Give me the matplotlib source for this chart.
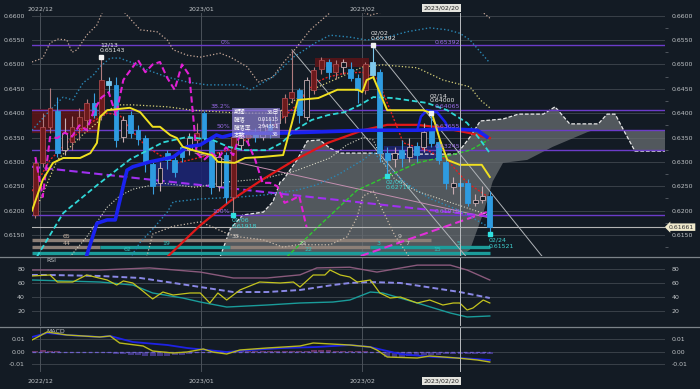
import numpy as np
import pandas as pd
import matplotlib
matplotlib.use('Agg')
import matplotlib.pyplot as plt
from matplotlib.patches import Rectangle, Polygon
from matplotlib.lines import Line2D

# ---------------- data ----------------
dates = pd.bdate_range('2022-11-30', '2023-02-24')
idx = np.arange(len(dates)) - 1          # 2022/12/01 -> 0

opens = [.6192,.6298,.6372,.6405,.6325,.6340,.6370,.6385,.6421,.6396,.6466,.6458,.6352,.6396,.6365,.6349,
         .6296,.6257,.6318,.6304,.6331,.6325,.6345,.6400,.6345,.6250,.6314,.6228,.6335,.6349,.6360,.6352,
         .6375,.6380,.6395,.6431,.6448,.6392,.6448,.6490,.6505,.6485,.6495,.6490,.6472,.6448,.6505,.6484,
         .6318,.6305,.6324,.6310,.6333,.6330,.6365,.6341,.6300,.6248,.6257,.6257,.6216,.6222,.6230]
highs = [.6305,.6400,.6452,.6433,.6390,.6395,.6410,.6430,.6441,.65143,.6475,.6475,.6395,.6405,.6375,.6355,
         .6300,.6300,.6325,.6310,.6335,.6360,.6380,.6405,.6350,.6320,.6320,.6360,.6360,.6375,.6370,.6390,
         .6385,.6410,.6440,.6530,.6452,.6475,.6495,.6515,.6512,.6510,.6512,.6505,.6480,.6505,.65392,.6490,
         .6330,.6330,.6345,.6350,.6340,.6380,.6400,.6345,.6305,.6270,.6265,.6265,.6235,.6250,.6240]
lows = [.6185,.6290,.6360,.6310,.6315,.6325,.6345,.6370,.6390,.6385,.6440,.6330,.6340,.6350,.6335,.6280,
        .6235,.6240,.6285,.6270,.6300,.6315,.6330,.6340,.6235,.6240,.6215,.61918,.6325,.6335,.6340,.6345,
        .6350,.6370,.6380,.6420,.6380,.6385,.6440,.6480,.6470,.6470,.6480,.6465,.6420,.6440,.6470,.6300,
        .62716,.6290,.6290,.6300,.6300,.6320,.6330,.6295,.6245,.6235,.6240,.6210,.6210,.6215,.61521]
closes = [.6298,.6372,.6411,.6318,.6360,.6372,.6392,.6420,.6396,.6468,.6458,.6345,.6385,.6360,.6347,.6298,
          .6250,.6287,.6304,.6280,.6310,.6350,.6360,.6349,.6248,.6310,.6228,.6351,.6349,.6360,.6352,.6375,
          .6365,.6406,.6432,.6443,.6396,.6468,.6489,.6509,.6484,.6500,.6505,.6472,.6448,.6500,.6478,.6318,
          .6304,.6318,.6308,.6330,.6314,.6361,.6339,.6304,.6257,.6257,.6250,.6216,.6222,.6230,.61661]
styles = ['r','r','r','b','h','r','r','r','b','r','l','b','h','b','b','b',
          'b','h','b','b','b','h','r','b','b','h','b','r','h','r','b','h',
          'b','h','r','r','b','h','r','r','b','r','h','b','b','r','l','b',
          'b','h','b','h','b','h','b','b','b','h','b','b','h','h','b']

# indicator lines (position, value)
tenkan_x = [-1.46,0.0,1.4,2.8,5.1,6.5,7.4,7.8,8.8,11.9,13.3,15.0,16.0,17.4,18.3,19.1,20.5,21.9,23.1,23.9,
            26.2,27.6,29.9,32.8,34.0,34.8,37.6,40.2,43.0,43.6,44.2,45.1,47.0,51.9,53.1,54.2,55.2,56.9,59.9,61.0]
tenkan_y = [.6200,.6263,.6298,.6308,.6308,.6318,.6339,.6392,.6406,.6411,.6402,.6372,.6372,.6355,.6349,.6331,
            .6324,.6318,.6314,.6300,.6298,.6308,.6310,.6314,.6380,.6427,.6431,.6448,.6448,.6443,.6468,.6474,
            .6406,.6406,.6400,.6345,.6304,.6294,.6294,.6269]
kijun_x = [-0.8,2.8,7.4,11.9,16.4,19.7,23.2,25.3,27.6,30.7,32.6,34.4,36.7,38.9,41.2,43.3,45.1,47.8,52.4,55.2,57.9,59.7,61.0]
kijun_y = [.6105,.6195,.6252,.6305,.6340,.6351,.6345,.6331,.6324,.6324,.6339,.6365,.6386,.6396,.6402,.6417,
           .6433,.6431,.6421,.6406,.6380,.6345,.6318]
ma_blue_x = [6.0,7.4,8.8,9.9,11.5,12.3,14.6,17.8,19.7,21.5,23.7,24.5,26.6,32.1,36.7,44.4,51.1,55.2,59.3,60.6]
ma_blue_y = [.6108,.6174,.6181,.6181,.6283,.6290,.6300,.6310,.6331,.6335,.6355,.6351,.6359,.6359,.6361,.6365,
             .6365,.6368,.6365,.6351]
arc_x = [51.1,51.6,52.4,53.8,54.9,55.4]
arc_y = [.6365,.6393,.6406,.6402,.6382,.6368]
ma_red_x = [17.0,21.5,25.6,29.9,34.4,38.9,43.7,47.0,51.1,54.6,58.3,61.0]
ma_red_y = [.6105,.6170,.6220,.6263,.6304,.6339,.6365,.6376,.6376,.6370,.6359,.6349]
ma_reddot_x = [-1.46,1.0,3.7,6.5,8.8,10.5,12.9,14.2,16.4,18.3,20.1,25.3,27.6,31.4,34.4,37.1,38.9,41.2,43.6,
               45.6,47.8,49.2,52.4,55.2,57.9,60.8]
ma_reddot_y = [.6240,.6304,.6345,.6380,.6400,.6396,.6351,.6331,.6310,.6298,.6304,.6324,.6345,.6372,.6413,.6462,
               .6474,.6482,.6484,.6472,.6392,.6339,.6324,.6304,.6257,.6228]
ma_green_x = [33.3,37.8,42.9,47.4,51.1,54.6,58.3,60.8]
ma_green_y = [.6105,.6170,.6242,.6273,.6298,.6310,.6324,.6345]
bb3u_x = [-1.46,0.0,1.0,2.1,3.3,4.0,4.7,6.0,7.4,8.1,9.6,11.2,13.3,15.6,17.0,17.8,19.7,21.5,24.2,25.6,27.9,
          29.4,31.4,32.8,34.7,36.5,39.2,41.5,44.7,46.4,53.0,60.1,61.0]
bb3u_y = [.6505,.6513,.6544,.6552,.6550,.6525,.6530,.6560,.6581,.6606,.6625,.6606,.6571,.6567,.6550,.6530,
          .6519,.6515,.6523,.6515,.6495,.6464,.6474,.6503,.6536,.6571,.6606,.6622,.6601,.6608,.6625,.6606,.6595]
bb2u_x = [-1.46,1.0,2.8,4.1,5.5,6.9,7.8,9.2,10.5,12.3,14.2,17.0,19.7,22.4,26.9,28.3,31.4,34.2,37.4,39.2,41.9,
          44.2,47.0,49.7,52.8,55.2,56.9,58.3,61.0]
bb2u_y = [.6365,.6406,.6433,.6427,.6462,.6478,.6495,.6513,.6513,.6503,.6489,.6474,.6464,.6458,.6458,.6448,
          .6474,.6515,.6546,.6560,.6556,.6550,.6556,.6567,.6575,.6571,.6564,.6550,.6503]
bb1u_x = [-0.8,2.0,5.1,7.4,8.8,10.5,12.3,17.0,20.5,26.9,32.1,34.4,36.7,40.6,43.7,46.4,51.1,54.6,58.3,59.7,61.0]
bb1u_y = [.6207,.6304,.6351,.6380,.6406,.6417,.6417,.6413,.6406,.6400,.6400,.6427,.6448,.6474,.6495,.6499,
          .6493,.6468,.6454,.6427,.6411]
bb1l_x = [3.7,6.0,8.8,10.5,12.3,14.2,16.0,20.8,25.3,29.9,34.4,39.2,41.5,43.7,45.1,46.4,48.0,51.0,55.0,61.0]
bb1l_y = [.6105,.6146,.6207,.6230,.6244,.6250,.6257,.6248,.6259,.6265,.6281,.6308,.6335,.6350,.6345,.6300,
          .6265,.6240,.6220,.6190]
bb2l_x = [11.9,13.3,15.0,17.0,17.8,21.5,26.9,30.1,34.7,37.4,40.2,43.7,45.1,47.0,49.7,52.8,56.9,61.0]
bb2l_y = [.6102,.6135,.6162,.6197,.6218,.6224,.6228,.6232,.6242,.6253,.6273,.6304,.6320,.6290,.6255,.6225,
          .6200,.6165]
bb3l_x = [14.2,15.0,17.8,21.5,23.2,25.3,26.9,30.1,32.8,34.7,39.2,41.5,42.9,43.7,45.1,46.4,48.0,50.0]
bb3l_y = [.6105,.6152,.6168,.6177,.6166,.6152,.6146,.6140,.6125,.6130,.6130,.6146,.6187,.6230,.6240,.6200,
          .6150,.6105]
spanA_x = [24.2,25.6,27.3,30.1,31.4,32.4,32.8,34.7,36.1,37.8,39.2,40.6,44.7,47.8,56.5,58.3,59.7,62.8,64.9,
           68.3,69.9,71.9,75.8,77.0,78.1,79.4,80.8,85.2]
spanA_y = [.6105,.6163,.6191,.6197,.6218,.6259,.6263,.6304,.6343,.6345,.6328,.6318,.6318,.6316,.6316,.6351,
           .6384,.6388,.6398,.6398,.6413,.6378,.6378,.6398,.6398,.6361,.6322,.6322]
spanB_x = [24.2,56.0,58.3,60.0,61.4,62.8,66.1,69.6,74.3,75.1,85.2]
spanB_y = [.6095,.6095,.6120,.6190,.6260,.6298,.6304,.6331,.6361,.6365,.6365]
chikou_shift = 25

fib_levels = [0.65392, 0.64065, 0.63655, 0.63245, 0.61918]
fib_names = ['0%', '38.2%', '50%', '', '100%']

# horizontal band rows (price, segments, labels)
band_rows = [.6140, .6126, .6113]
band_segments = [(0, -1.46, 53.0, 'tan'), (1, -1.46, 7.8, 'tan'), (1, 7.8, 25.6, 'teal'),
                 (1, 25.6, 44.7, 'tan'), (1, 44.7, 61.0, 'teal'), (2, -1.46, 61.0, 'teal')]
band_labels = [(0, 3.3, '65', 'tan'), (0, 26.3, '38', 'grey'), (0, 48.7, '9', 'grey'),
               (1, 3.3, '44', 'tan'), (1, 16.8, '19', 'teal'), (1, 35.4, '29', 'grey'),
               (1, 45.8, '3', 'teal'), (1, 49.8, '7', 'grey'), (1, 56.7, '5', 'teal'),
               (2, 11.6, '62', 'teal'), (2, 36.2, '22', 'teal'), (2, 53.8, '15', 'teal')]

# RSI panel
rsi_pink_x = [-1.46,7.8,14.6,21.5,26.0,30.6,35.1,37.4,41.9,45.6,51.1,55.6,57.9,61.0]
rsi_pink_y = [79,79,82,76,67.5,67.5,72,82,83,76,86,86,79,64.6]
rsi_lav_x = [-1.46,1.0,7.8,13.3,17.0,21.5,26.0,30.6,35.1,39.6,41.9,44.7,48.8,53.3,56.9,61.0]
rsi_lav_y = [71.8,71.8,70.4,67.5,61.7,54.5,47.3,47.3,50.2,57.4,60.3,61.7,60.3,53.1,47.3,38.7]
rsi_teal_x = [-1.46,7.8,12.3,15.0,19.1,21.5,25.1,30.6,35.1,39.6,41.9,44.7,46.4,51.1,55.6,57.9,61.0]
rsi_teal_y = [64.6,61.7,57.4,45.9,38.7,32.9,25.7,28.6,31.5,32.9,35.8,47.3,45.9,31.5,17.1,11.4,12.8]
rsi_x = [-1.46,1.0,2.0,4.1,6.0,8.8,10.1,11.0,12.3,15.0,16.4,17.8,20.1,21.5,22.8,23.9,25.1,26.9,29.6,32.4,
         34.2,35.1,36.9,38.5,39.2,40.6,41.9,42.9,44.7,46.0,47.4,48.8,51.1,52.8,54.6,56.0,56.9,57.9,58.7,60.1,61.0]
rsi_y = [70.4,71.8,61.7,61.7,71.8,64.6,57.4,63.2,60.3,37.3,47.3,43.0,45.9,45.9,31.5,45.9,35.8,50.2,61.7,60.3,
         61.7,54.5,71.8,71.8,79.0,71.8,68.9,61.7,64.6,45.9,38.7,40.1,31.5,35.8,28.6,31.5,31.5,21.4,24.3,35.8,31.5]

# MACD panel
macd_sig_x = [-1.46,0.6,3.3,7.8,9.2,12.3,17.0,19.7,22.4,25.1,28.3,32.8,37.4,41.9,44.7,46.4,48.8,53.3,56.9,61.0]
macd_sig_y = [.0118,.0150,.0134,.0118,.0126,.0078,.0054,.0030,.0014,-.0002,.0014,.0030,.0038,.0054,.0038,
              .0014,-.0018,-.0042,-.0050,-.0066]
macd_x = [-1.46,0.6,3.3,7.8,9.2,10.5,13.7,15.0,17.8,19.7,21.9,23.2,25.1,26.9,30.6,35.1,36.9,41.9,44.7,45.6,
          47.0,51.1,52.8,56.5,59.3,61.0]
macd_y = [.0094,.0158,.0134,.0118,.0126,.0070,.0046,.0006,-.0010,-.0002,.0022,-.0002,-.0018,.0014,.0030,.0046,
          .0070,.0054,.0038,.0014,-.0042,-.0050,-.0034,-.0050,-.0066,-.0082]
macd_hist = [.0008,.0012,.0010,.0004,.0002,.0000,-.0002,-.0003,-.0002,.0000,-.0010,-.0018,-.0020,-.0022,-.0026,
             -.0030,-.0035,-.0036,-.0033,-.0028,-.0022,-.0014,-.0008,-.0004,-.0006,-.0008,-.0006,-.0002,.0003,
             .0005,.0006,.0006,.0007,.0008,.0009,.0010,.0008,.0010,.0012,.0013,.0011,.0010,.0008,.0006,.0004,
             .0004,.0002,-.0012,-.0040,-.0045,-.0040,-.0034,-.0030,-.0026,-.0022,-.0022,-.0020,-.0018,-.0016,
             -.0018,-.0016,-.0014,-.0016]

# ---------------- style ----------------
BG = '#131b24'
GRID = '#3a4149'
TXT = '#bfc3c6'
PURPLE = '#6c3cc8'
plt.rcParams['font.family'] = ['DejaVu Sans', 'Noto Sans CJK JP']
FS = 4.5
CJK = ['Noto Sans CJK JP', 'DejaVu Sans']

fig = plt.figure(figsize=(7, 3.89), dpi=100, facecolor=BG)
W, H = 700, 389
L, R = 32, 665
ax = fig.add_axes([L / W, 1 - 256 / H, (R - L) / W, (256 - 13) / H], facecolor=BG)
axr = fig.add_axes([L / W, 1 - 326 / H, (R - L) / W, (326 - 257) / H], facecolor=BG)
axm = fig.add_axes([L / W, 1 - 372 / H, (R - L) / W, (372 - 327) / H], facecolor=BG)

XMIN, XMAX = -1.46, 84.9
for a in (ax, axr, axm):
    a.set_xlim(XMIN, XMAX)
    for s in a.spines.values():
        s.set_visible(False)
    a.set_xticks([])
    a.tick_params(axis='y', which='both', labelleft=True, labelright=True, left=False, right=False,
                  labelsize=FS, labelcolor=TXT, pad=1.5)

ax.set_ylim(0.61069, 0.66055)
axr.set_ylim(-1.6, 97.7)
axm.set_ylim(-0.0162, 0.0198)

# grid
yt = np.round(np.arange(0.6150, 0.66001, 0.005), 4)
ax.set_yticks(yt)
ax.set_yticklabels([f'{v:.4f}' for v in yt])
for v in yt:
    ax.axhline(v, color=GRID, lw=0.7, zorder=0)
ax.set_yticks(np.round(np.arange(0.6125, 0.6601, 0.005), 4), minor=True)
ax.tick_params(axis='y', which='minor', right=True, length=2, color='#5a6068', width=0.6)
axr.set_yticks([20, 40, 60, 80])
for v in [20, 40, 60, 80]:
    axr.axhline(v, color=GRID, lw=0.7, zorder=0)
axm.set_yticks([-0.01, 0.0, 0.01])
axm.set_yticklabels(['-0.01', '0.00', '0.01'])
for v in [-0.01, 0.0, 0.01]:
    axm.axhline(v, color=GRID, lw=0.7, zorder=0)

# month grid lines + crosshair
month_pos, month_lab = [], []
for k in range(1, len(dates)):
    if dates[k].month != dates[k - 1].month:
        month_pos.append(idx[k] - 0.37)
        month_lab.append(dates[k].strftime('%Y/%m'))
cross_pos = idx[list(dates).index(pd.Timestamp('2023-02-20'))] - 0.1
for a in (ax, axr, axm):
    for p in month_pos:
        a.axvline(p, color='#4a5159', lw=0.7, zorder=0)
    a.axvline(cross_pos, color='#b9bcbf', lw=0.7, zorder=6)

for p, lab in zip(month_pos, month_lab):
    ax.text(p, 1.017, lab, transform=ax.get_xaxis_transform(), ha='center', va='center',
            fontsize=FS, color=TXT)
    axm.text(p, -0.2, lab, transform=axm.get_xaxis_transform(), ha='center', va='center',
             fontsize=FS, color=TXT)
for a, yy in ((ax, 1.02), (axm, -0.2)):
    a.text(cross_pos, yy, '2023/02/20', transform=a.get_xaxis_transform(), ha='right', va='center',
           fontsize=FS, color='#222222',
           bbox=dict(boxstyle='square,pad=0.25', fc='#e4e4de', ec='none'))

# separators
for yy in (256.5, 326.5):
    fig.add_artist(Line2D([0, 1], [1 - yy / H, 1 - yy / H], transform=fig.transFigure,
                          color='#7c8389', lw=0.9))

# ---------------- main panel ----------------
cloud = Polygon(list(zip(spanA_x, spanA_y)) + list(zip(spanB_x[::-1], spanB_y[::-1])),
                closed=True, fc='#6b7074', ec='none', alpha=0.72, zorder=1)
ax.add_patch(cloud)
ax.plot(spanA_x, spanA_y, color='#e8e8e8', lw=0.9, ls=(0, (3, 1.5)), zorder=2)

boxes = [(-1.46, 7.6, .6359, .6408, '#5a1518', 0.9), (37.2, 44.5, .6495, .6513, '#5a1518', 0.9),
         (15.5, 22.8, .6250, .6300, '#1c2472', 0.9), (46.5, 54.0, .6305, .6333, '#1c2472', 0.85)]
for x0, x1, y0, y1, c, al in boxes:
    ax.add_patch(Rectangle((x0, y0), x1 - x0, y1 - y0, fc=c, ec='none', alpha=al, zorder=1.5))

for lv, nm in zip(fib_levels, fib_names):
    ax.axhline(lv, color=PURPLE, lw=1.0, zorder=2)
    ax.text(56.9, lv + 0.0001, f'{lv:.5f}', ha='right', va='bottom', fontsize=FS, color='#9a6ae8', zorder=7)
    if nm:
        ax.text(25.6, lv + 0.0001, nm, ha='right', va='bottom', fontsize=FS, color='#9a6ae8', zorder=7)

col_map = {'tan': '#8c7f77', 'teal': '#1c9c9a', 'grey': '#c9c2ba'}
tcol = {'tan': '#c9b6a6', 'teal': '#2fc4c0', 'grey': '#cfcac4'}
for row, x0, x1, c in band_segments:
    ax.hlines(band_rows[row], x0, x1, color=col_map[c], lw=2.4, zorder=2)
for row, xx, lab, c in band_labels:
    ax.text(xx, band_rows[row] + 0.00012, lab, ha='center', va='bottom', fontsize=FS, color=tcol[c], zorder=7)

ax.axhline(closes[-1], color='#b4b4b4', lw=0.8, zorder=2)
ax.text(1.006, closes[-1], f'{closes[-1]:.5f}', transform=ax.get_yaxis_transform(), ha='left', va='center',
        fontsize=FS, color='#333333', zorder=8, clip_on=False,
        bbox=dict(boxstyle='larrow,pad=0.2', fc='#efe9cc', ec='none'))

# trend lines
ax.plot([45.0, 68.1], [0.65392, 0.6107], color='#b0b4b8', lw=0.7, zorder=3)
ax.plot([34.0, 57.7], [0.6530, 0.6107], color='#b0b4b8', lw=0.7, zorder=3)
ax.plot([20.8, 61.0], [0.6318, 0.6185], color='#c48fb0', lw=0.7, zorder=3)
ax.plot([-1.46, 61.0], [0.6290, 0.6188], color='#a030f0', lw=1.5, ls=(0, (4, 2)), zorder=3)
ax.plot([43.4, 61.0], [0.6107, 0.6199], color='#e030d8', lw=1.5, ls=(0, (4, 2)), zorder=3)

# bands / moving averages
ax.plot(bb3u_x, bb3u_y, color='#c8a898', lw=0.9, ls=':', zorder=3)
ax.plot(bb3l_x, bb3l_y, color='#c8b8a8', lw=0.9, ls=':', zorder=3)
ax.plot(bb2u_x, bb2u_y, color='#2a88b6', lw=1.0, ls=':', zorder=3)
ax.plot(bb2l_x, bb2l_y, color='#2a88b6', lw=1.0, ls=':', zorder=3)
ax.plot(bb1u_x, bb1u_y, color='#d8d27a', lw=0.9, ls=':', zorder=3)
ax.plot(bb1l_x, bb1l_y, color='#d6d6c4', lw=0.8, ls=':', zorder=3)
ax.plot(ma_green_x, ma_green_y, color='#30c830', lw=1.0, ls=(0, (3, 1.5)), zorder=3)
ax.plot(ma_red_x, ma_red_y, color='#e01818', lw=1.6, zorder=3.5)
ax.plot(ma_reddot_x, ma_reddot_y, color='#e02020', lw=1.0, ls=(0, (1.5, 1.2)), zorder=3.5)

# candles
idx_arr = np.array(idx, dtype=float)
o = np.array(opens); h = np.array(highs); l = np.array(lows); c = np.array(closes)
face = {'r': '#6c1a1c', 'b': '#2e9be0', 'l': '#7ec8ec', 'h': BG}
edge = {'r': '#a9484c', 'b': '#2e9be0', 'l': '#7ec8ec', 'h': '#c8adb2'}
wick = {'r': '#b07c7e', 'b': '#3aa0e0', 'l': '#7ec8ec', 'h': '#c8adb2'}
for st in 'rblh':
    m = np.array([s == st for s in styles])
    if not m.any():
        continue
    ax.vlines(idx_arr[m], l[m], h[m], color=wick[st], lw=0.8, zorder=4)
    bot = np.minimum(o[m], c[m])
    ht = np.maximum(np.abs(c[m] - o[m]), 0.00006)
    ax.bar(idx_arr[m], ht, bottom=bot, width=0.66, color=face[st], edgecolor=edge[st], linewidth=0.6, zorder=4.2)

# chikou span
ch_mask = idx_arr - chikou_shift >= XMIN - 0.5
ax.plot(idx_arr[ch_mask] - chikou_shift, c[ch_mask], color='#e020d4', lw=1.5, ls=(0, (3, 1.6)), zorder=5)

ax.plot(kijun_x, kijun_y, color='#30d8d8', lw=1.3, ls=(0, (3, 1.6)), zorder=5)
ax.plot(ma_blue_x, ma_blue_y, color='#1a22f0', lw=2.6, zorder=5)
ax.plot(arc_x, arc_y, color='#1a22f0', lw=1.8, zorder=5)
ax.plot(tenkan_x, tenkan_y, color='#f0e020', lw=1.4, zorder=5.2)

# info box
ax.add_patch(Rectangle((25.8, 0.6349), 6.6, 0.0062, fc='#8a7ed0', ec='none', alpha=0.72, zorder=6))
info_rows = [('期間', '36日'), ('騰落', '0.01815'), ('騰落率', '2.94351'), ('本数', '36')]
for k, (a_, b_) in enumerate(info_rows):
    yy = 0.6402 - k * 0.00152
    ax.text(26.1, yy, a_, ha='left', va='center', fontsize=FS - 0.3, color='white', family=CJK, zorder=7)
    ax.text(32.2, yy, b_, ha='right', va='center', fontsize=FS - 0.3, color='white', family=CJK, zorder=7)

# high / low annotations
highs_ann = [('12/13', 8, 0.65143, 0.0026, 0.0014), ('02/02', 45, 0.65392, 0.0026, 0.0014),
             ('02/14', 53, 0.6400, 0.0036, 0.0025)]
for lab, xi, val, d1, d2 in highs_ann:
    ax.plot([xi], [val], 's', ms=2.2, color='#f0f0f0', zorder=7)
    ax.text(xi - 0.2, val + d1, lab, ha='left', va='center', fontsize=FS, color='#e6e6e6', zorder=7)
    ax.text(xi - 0.2, val + d2, f'{val:.5f}', ha='left', va='center', fontsize=FS, color='#e6e6e6', zorder=7)
lows_ann = [('01/06', 26, 0.61918), ('02/06', 47, 0.62716), ('02/24', 61, 0.61521)]
for lab, xi, val in lows_ann:
    ax.plot([xi], [val], 's', ms=2.2, color='#30e0e0', zorder=7)
    ax.text(xi - 0.2, val - 0.0012, lab, ha='left', va='center', fontsize=FS, color='#40d0d0', zorder=7)
    ax.text(xi - 0.2, val - 0.0025, f'{val:.5f}', ha='left', va='center', fontsize=FS, color='#40d0d0', zorder=7)

# ---------------- RSI ----------------
axr.text(0.5, 92, 'RSI', ha='left', va='center', fontsize=FS, color=TXT)
axr.plot(rsi_pink_x, rsi_pink_y, color='#8a5a7c', lw=1.0)
axr.plot(rsi_lav_x, rsi_lav_y, color='#8a88e6', lw=1.4, ls=(0, (3, 1.6)))
axr.plot(rsi_teal_x, rsi_teal_y, color='#1a9c9a', lw=1.0)
axr.plot(rsi_x, rsi_y, color='#c4c41e', lw=0.9)

# ---------------- MACD ----------------
axm.text(0.5, 0.0165, 'MACD', ha='left', va='center', fontsize=FS, color=TXT)
hist = np.array(macd_hist)
axm.bar(idx_arr, hist, width=0.8, color=np.where(hist >= 0, '#7a3a72', '#4a3e94'), alpha=0.85, zorder=1)
axm.plot([XMIN, 61.0], [0, 0], color='#6e62c8', lw=0.9, ls=(0, (3, 2)), zorder=2)
axm.plot(macd_sig_x, macd_sig_y, color='#1e22e6', lw=1.3, zorder=3)
axm.plot(macd_x, macd_y, color='#b8b81e', lw=1.0, zorder=3)

fig.savefig('out.png', dpi=100, facecolor=BG)
